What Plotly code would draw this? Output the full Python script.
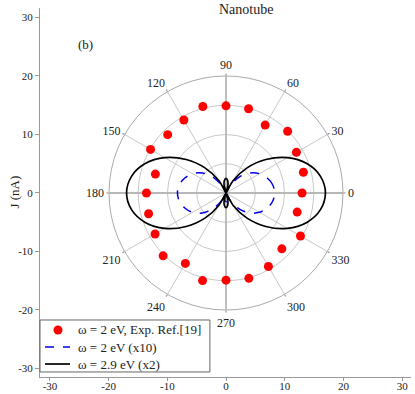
import plotly.graph_objects as go

# experimental points, every 15 degrees
exp_theta = list(range(0, 360, 15))
exp_r = [13.0, 13.7, 13.9, 14.9, 13.4, 14.9, 14.9, 15.3, 14.4, 14.1, 14.9, 12.5,
         13.6, 13.7, 14.0, 15.2, 13.9, 15.5, 14.9, 15.1, 14.5, 13.5, 14.7, 12.6]

# omega = 2 eV (x10), blue dashed
blue_theta = [0, 10, 20, 30, 40, 50, 60, 67, 75, 82, 90, 98, 105, 113, 120, 130, 140, 150, 160, 170,
              180, 190, 200, 210, 220, 230, 240, 247, 255, 262, 270, 278, 285, 293, 300, 310, 320, 330, 340, 350, 360]
blue_r = [8.3, 8.1, 7.5, 6.6, 5.3, 3.6, 1.5, 0.0, 0.8, 1.3, 1.5, 1.3, 0.8, 0.0, 1.5, 3.6, 5.3, 6.6, 7.5, 8.1,
          8.3, 8.1, 7.5, 6.6, 5.3, 3.6, 1.5, 0.0, 0.8, 1.3, 1.5, 1.3, 0.8, 0.0, 1.5, 3.6, 5.3, 6.6, 7.5, 8.1, 8.3]

# omega = 2.9 eV (x2), black solid
black_theta = [0, 10, 20, 30, 40, 50, 60, 69, 75, 82, 90, 98, 105, 111, 120, 130, 140, 150, 160, 170,
               180, 190, 200, 210, 220, 230, 240, 249, 255, 262, 270, 278, 285, 291, 300, 310, 320, 330, 340, 350, 360]
black_r = [17.0, 16.4, 14.7, 12.1, 8.9, 5.6, 2.4, 0.0, 1.2, 2.1, 2.5, 2.1, 1.2, 0.0, 2.4, 5.6, 8.9, 12.1, 14.7, 16.4,
           17.0, 16.4, 14.7, 12.1, 8.9, 5.6, 2.4, 0.0, 1.2, 2.1, 2.5, 2.1, 1.2, 0.0, 2.4, 5.6, 8.9, 12.1, 14.7, 16.4, 17.0]

legend_names = ["ω = 2 eV, Exp. Ref.[19]", "ω = 2 eV (x10)", "ω = 2.9 eV (x2)"]

angle_ticks = list(range(0, 360, 30))
xy_ticks = [-30, -20, -10, 0, 10, 20, 30]
xy_ticktext = ["-30", "-20", "-10", "0", "10", "20", "30"]

FONT = "Liberation Serif"
RED, BLUE = "#ff0000", "#0000ee"

fig = go.Figure()

# main axis lines through the centre (darker)
fig.add_trace(go.Scatterpolar(r=[20, 0, 20], theta=[0, 0, 180], mode="lines",
                              line=dict(color="#aaaaaa", width=1.3), hoverinfo="skip"))
fig.add_trace(go.Scatterpolar(r=[20, 0, 20], theta=[90, 90, 270], mode="lines",
                              line=dict(color="#aaaaaa", width=1.3), hoverinfo="skip"))

fig.add_trace(go.Scatterpolar(r=exp_r, theta=exp_theta, mode="markers",
                              marker=dict(color=RED, size=9), name=legend_names[0]))
fig.add_trace(go.Scatterpolar(r=blue_r, theta=blue_theta, mode="lines",
                              line=dict(color=BLUE, width=1.5, dash="dash", shape="spline"),
                              name=legend_names[1]))
fig.add_trace(go.Scatterpolar(r=black_r, theta=black_theta, mode="lines",
                              line=dict(color="black", width=1.7, shape="spline"),
                              name=legend_names[2]))

# empty cartesian trace so the x/y axes are drawn
fig.add_trace(go.Scatter(x=[None], y=[None]))

fig.update_layout(
    width=415,
    height=394,
    margin=dict(l=40, r=4, t=8, b=17),
    paper_bgcolor="white",
    plot_bgcolor="white",
    font=dict(family=FONT, size=12, color="#222"),
    showlegend=False,
    polar=dict(
        domain=dict(x=[0.186, 0.8167], y=[0.1816, 0.8157]),
        bgcolor="rgba(0,0,0,0)",
        radialaxis=dict(range=[0, 20], tickvals=[5, 10, 15, 20], showticklabels=False,
                        ticks="", showline=False, gridcolor="#c8c8c8", gridwidth=0.8),
        angularaxis=dict(tickvals=angle_ticks, direction="counterclockwise", rotation=0,
                         gridcolor="#c8c8c8", gridwidth=0.8, linecolor="#aaaaaa", linewidth=1,
                         ticks="outside", ticklen=2, tickcolor="#888",
                         tickfont=dict(family=FONT, size=12, color="#222")),
    ),
    xaxis=dict(range=[-31.7, 31.5], tickvals=xy_ticks, ticktext=xy_ticktext, showgrid=False,
               zeroline=False, showline=True, linecolor="#999", ticks="outside", ticklen=3,
               tickcolor="#999", tickfont=dict(family=FONT, size=11), automargin=False,
               ticklabelstandoff=-4),
    yaxis=dict(range=[-31.45, 31.6], tickvals=xy_ticks, ticktext=xy_ticktext, showgrid=False,
               zeroline=False, showline=True, linecolor="#999", ticks="outside", ticklen=4,
               tickcolor="#999", tickfont=dict(family=FONT, size=11), automargin=False),
)

# hand-made legend box in the lower left corner (paper coords of the plot area)
fig.add_shape(type="rect", xref="paper", yref="paper", x0=0, x1=0.458, y0=0.0136, y1=0.1545,
              line=dict(color="#666", width=1), fillcolor="white", layer="above")
fig.add_shape(type="circle", xref="paper", yref="paper", xsizemode="pixel", ysizemode="pixel",
              xanchor=0.0485, yanchor=0.1274, x0=-4.5, x1=4.5, y0=-4.5, y1=4.5,
              fillcolor=RED, line=dict(color=RED, width=0), layer="above")
fig.add_shape(type="line", xref="paper", yref="paper", x0=0.0135, x1=0.0809, y0=0.0813, y1=0.0813,
              line=dict(color=BLUE, width=1.5, dash="dash"), layer="above")
fig.add_shape(type="line", xref="paper", yref="paper", x0=0.0135, x1=0.0809, y0=0.0352, y1=0.0352,
              line=dict(color="black", width=1.7), layer="above")
for name, yy in zip(legend_names, [0.1274, 0.0813, 0.0352]):
    fig.add_annotation(x=0.097, y=yy, xref="paper", yref="paper", text=name, showarrow=False,
                       xanchor="left", yanchor="middle", font=dict(family=FONT, size=13))

fig.add_annotation(x=0.555, y=1.0, xref="paper", yref="paper", text="Nanotube",
                   showarrow=False, xanchor="center", yanchor="top", yshift=8,
                   font=dict(family=FONT, size=14))
fig.add_annotation(x=-23.9, y=25.3, xref="x", yref="y", text="(b)", showarrow=False,
                   font=dict(family=FONT, size=13))
fig.add_annotation(x=-0.07, y=0.5, xref="paper", yref="paper", text="J (nA)", showarrow=False,
                   textangle=-90, xanchor="center", yanchor="middle",
                   font=dict(family=FONT, size=13))

# drop the browser's default 8px body margin so the figure sits at the page origin
fig.write_html("out.html", config={"displayModeBar": False},
               post_script="document.body.style.margin='0';")
